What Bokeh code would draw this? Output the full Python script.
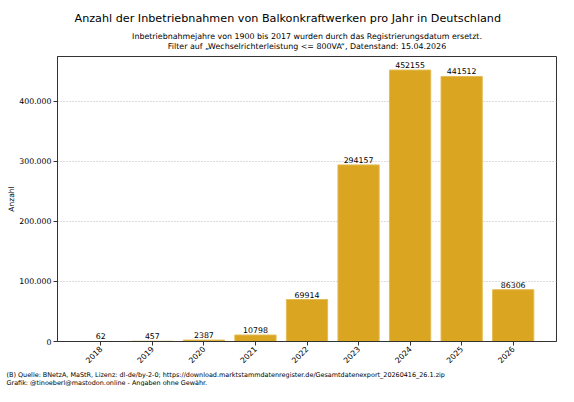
import math
from bokeh.plotting import figure
from bokeh.models import (Range1d, FixedTicker, CustomJSTickFormatter, Title,
                          LabelSet, ColumnDataSource)
from bokeh.core.properties import value
from bokeh.embed import file_html
from bokeh.resources import INLINE

years = [2018, 2019, 2020, 2021, 2022, 2023, 2024, 2025, 2026]
counts = [62, 457, 2387, 10798, 69914, 294157, 452155, 441512, 86306]
y_ticks = [0, 100000, 200000, 300000, 400000]

title_text = "Anzahl der Inbetriebnahmen von Balkonkraftwerken pro Jahr in Deutschland"
sub1_text = "Inbetriebnahmejahre von 1900 bis 2017 wurden durch das Registrierungsdatum ersetzt."
sub2_text = "Filter auf \u201eWechselrichterleistung <= 800VA\u201c, Datenstand: 15.04.2026"
foot_text = ("(B) Quelle: BNetzA, MaStR, Lizenz: dl-de/by-2-0; "
             "https://download.marktstammdatenregister.de/Gesamtdatenexport_20260416_26.1.zip\n"
             "Grafik: @tinoeberl@mastodon.online - Angaben ohne Gew\u00e4hr.")
y_label = "Anzahl"

FONT = "DejaVu Sans"

src = ColumnDataSource(dict(x=years, top=counts, lbl=[str(c) for c in counts]))

pad = 0.44 + 0.4
p = figure(width=558, height=386, output_backend="svg", toolbar_location=None,
           x_range=Range1d(years[0] - pad, years[-1] + pad),
           y_range=Range1d(0, max(counts) * 1.05),
           min_border_left=57, min_border_right=2, min_border_top=56,
           min_border_bottom=45)
p.background_fill_color = "white"
p.border_fill_color = "white"
p.outline_line_color = "#333333"
p.outline_line_width = 1

p.vbar(x="x", top="top", width=0.8, source=src, fill_color="#DAA520",
       line_color="#E3BC55", line_width=1)

# axes
for ax in (p.xaxis[0], p.yaxis[0]):
    ax.axis_line_color = "#333333"
    ax.major_tick_line_color = "#333333"
    ax.major_tick_out = 4
    ax.major_tick_in = 0
    ax.minor_tick_line_color = None
    ax.major_label_text_font = FONT
    ax.major_label_text_font_size = "7.8px"
    ax.major_label_text_color = "black"
    ax.major_label_standoff = 2

p.xaxis.ticker = FixedTicker(ticks=years)
p.xaxis.major_label_orientation = math.pi / 4
p.yaxis.ticker = FixedTicker(ticks=y_ticks)
p.yaxis.formatter = CustomJSTickFormatter(
    code="return tick.toFixed(0).replace(/\\B(?=(\\d{3})+(?!\\d))/g, '.');")
p.yaxis.axis_label = y_label
p.yaxis.axis_label_text_font = FONT
p.yaxis.axis_label_text_font_size = "7.5px"
p.yaxis.axis_label_text_font_style = "normal"
p.yaxis.axis_label_text_color = "black"
p.yaxis.axis_label_standoff = 0

p.xgrid.visible = False
p.ygrid.grid_line_color = "#bbbbbb"
p.ygrid.grid_line_dash = "1 2"
p.ygrid.grid_line_width = 1

# value labels
p.add_layout(LabelSet(x="x", y="top", text="lbl", source=src, text_align="center",
                      text_baseline="bottom", y_offset=2, text_font=value(FONT),
                      text_font_size=value("7.8px"), text_color="black"))

# main title (outermost) uses p.title
p.title.text = title_text
p.title.align = "left"
p.title.offset = 17
p.title.vertical_align = "top"
p.title.text_font = FONT
p.title.text_font_size = "11.2px"
p.title.text_font_style = "normal"
p.title.text_color = "black"
p.title.standoff = 15

# subtitle line 2 (nearest to the plot), then line 1 above it
p.add_layout(Title(text=sub2_text, align="center", vertical_align="top",
                   text_font=FONT, text_font_size="7.9px", text_font_style="normal",
                   text_color="black", standoff=8), "above")
p.add_layout(Title(text=sub1_text, align="center", vertical_align="bottom",
                   text_font=FONT, text_font_size="7.9px", text_font_style="normal",
                   text_color="black", standoff=-7.8), "above")

# footer below the x axis
p.add_layout(Title(text=foot_text, align="left", offset=-51, vertical_align="bottom",
                   text_font=FONT, text_font_size="6.45px", text_font_style="normal",
                   text_color="black", standoff=0), "below")

open("out.html", "w").write(file_html(p, INLINE))
